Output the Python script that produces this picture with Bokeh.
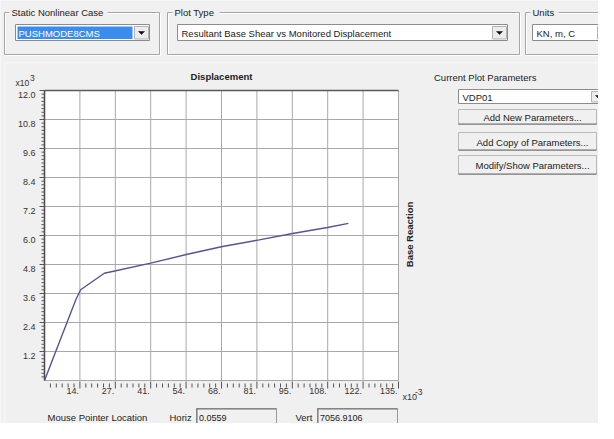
import math
import numpy as np
from bokeh.plotting import figure
from bokeh.models import Range1d
from bokeh.core.properties import value
from bokeh.embed import file_html
from bokeh.resources import INLINE

# ---------------- data ----------------
displacement_m = [0.0, 0.0119, 0.0138, 0.0228, 0.0272, 0.0405, 0.0545,
                  0.0679, 0.0819, 0.0946, 0.1079, 0.1159]
base_shear_kN = [0.0, 3330, 3755, 4440, 4540, 4855, 5225,
                 5545, 5820, 6085, 6330, 6500]

x_ticks = [13.5, 27.0, 40.5, 54.0, 67.5, 81.0, 94.5, 108.0, 121.5, 135.0]
x_tick_labels = ["14.", "27.", "41.", "54.", "68.", "81.", "95.", "108.", "122.", "135."]
y_ticks = [1.2, 2.4, 3.6, 4.8, 6.0, 7.2, 8.4, 9.6, 10.8, 12.0]
y_tick_labels = ["1.2", "2.4", "3.6", "4.8", "6.0", "7.2", "8.4", "9.6", "10.8", "12.0"]

case_name = "PUSHMODE8CMS"
plot_type = "Resultant Base Shear vs Monitored Displacement"
units_name = "KN, m, C"
param_name = "VDP01"
buttons = ["Add New Parameters...", "Add Copy of Parameters...", "Modify/Show Parameters..."]
horiz_value = "0.0559"
vert_value = "7056.9106"

# ---------------- layout constants (figure pixels) ----------------
W, H = 598, 423
OFF = 8                      # page margin
CL, CR, CT, CB = 44, 398, 90, 380   # chart box inside the figure
BG = "#f0f0f0"
FONT = "Liberation Sans"
TXT = "#222222"

x_lo, x_hi = 0.0, x_ticks[-1]
y_lo, y_hi = 0.0, y_ticks[-1]
kx = (x_hi - x_lo) / (CR - CL)
ky = (y_hi - y_lo) / (CB - CT)

p = figure(width=W, height=H, output_backend="svg", toolbar_location=None,
           x_range=Range1d(x_lo - CL * kx, x_hi + (W - CR) * kx),
           y_range=Range1d(y_lo - (H - CB) * ky, y_hi + CT * ky),
           x_axis_location=None, y_axis_location=None, min_border=0)
p.extra_x_ranges = {"px": Range1d(0, W)}
p.extra_y_ranges = {"px": Range1d(H, 0)}
p.grid.visible = False
p.outline_line_color = None
p.background_fill_color = BG
p.border_fill_color = BG

PX = dict(x_range_name="px", y_range_name="px")


def X(px):
    return px - OFF


def Y(py):
    return py - OFF


def box(l, t, r, b, fill=None, line=None, lw=1):
    p.quad(left=[X(l)], right=[X(r)], top=[Y(t)], bottom=[Y(b)],
           fill_color=fill, fill_alpha=1.0 if fill else 0.0,
           line_color=line, line_width=lw, **PX)


def text(px, py, s, size="9.5px", align="left", bold=False, color=TXT, angle=0.0):
    p.text(x=[X(px)], y=[Y(py)], text=[s], text_font=value(FONT),
           text_font_size=value(size), text_align=align, text_baseline="middle",
           text_color=color, text_font_style="bold" if bold else "normal",
           angle=angle, **PX)


def tri(cx, cy):
    p.patch([X(cx - 3), X(cx + 3), X(cx)], [Y(cy - 1.5), Y(cy - 1.5), Y(cy + 1.5)],
            fill_color="#111111", line_color="#111111", line_width=0.5, **PX)


def group(l, t, r, b, title, title_w):
    box(l + 1, t + 1, r + 1, b + 1, line="white")
    box(l, t, r, b, line="#a6a6a6")
    box(l + 5, t - 3, l + 9 + title_w, t + 3, fill=BG)
    text(l + 7, t, title)


def combo(l, t, r, b, s, btn_r, selected=False):
    box(l, t, r, b, fill="white", line="#8c8c8c")
    if selected:
        box(l + 2, t + 2, btn_r - 16, b - 1.5, fill="#3b8ded")
        text(l + 3, (t + b) / 2 + 0.5, s, color="white")
    else:
        text(l + 4, (t + b) / 2 + 0.5, s)
    box(btn_r - 14, t + 2, btn_r, b - 1.5, fill="#ececec", line="#b4b4b4")
    tri(btn_r - 7, (t + b) / 2 + 0.5)


# ---------------- dialog decoration ----------------
box(12, 70, 640, 70.8, fill="#fcfcfc")
box(12, 70, 12.8, 445, fill="#fcfcfc")

group(12, 20, 167, 62, "Static Nonlinear Case", 94)
combo(23, 32, 157, 48, case_name, 156, selected=True)
group(175, 20, 527, 62, "Plot Type", 43)
combo(185, 32, 515, 48, plot_type, 514)
group(533, 20, 640, 62, "Units", 24)
combo(540, 32, 640, 48, units_name, 619)

text(441.5, 85, "Current Plot Parameters")
combo(466, 97, 640, 111, param_name, 613)
btn_rows = [(117, 132), (140, 158), (163, 182)]
for (t, b), s in zip(btn_rows, buttons):
    box(466, t, 604, b, fill=BG, line="#b9b9b9")
    box(466, b - 1, 604, b, fill="#6e6e6e")
    text(540, (t + b) / 2 + 0.5, s, align="center")

# mouse readout row (nudged up a little so it fits above the page margin)
RY = 424.5
text(55, RY, "Mouse Pointer Location")
text(177, RY, "Horiz")
box(204, RY - 8.5, 284, 445, fill=BG, line="#9a9a9a")
box(204, RY - 8.5, 284, RY - 7.5, fill="#707070")
box(204, RY - 8.5, 205, 445, fill="#707070")
text(206.5, RY + 0.5, horiz_value, size="9px")
text(303, RY, "Vert")
box(325, RY - 8.5, 405, 445, fill=BG, line="#9a9a9a")
box(325, RY - 8.5, 405, RY - 7.5, fill="#707070")
box(325, RY - 8.5, 326, 445, fill="#707070")
text(327.5, RY + 0.5, vert_value, size="9px")

# ---------------- chart ----------------
p.quad(left=[x_lo], right=[x_hi], bottom=[y_lo], top=[y_hi],
       fill_color="white", line_color=None)
p.segment(x0=x_ticks, x1=x_ticks, y0=[y_lo] * len(x_ticks), y1=[y_hi] * len(x_ticks),
          line_color="#a8a8a8", line_width=1)
p.segment(x0=[x_lo] * len(y_ticks), x1=[x_hi] * len(y_ticks), y0=y_ticks, y1=y_ticks,
          line_color="#a8a8a8", line_width=1)
p.segment(x0=[x_lo], x1=[x_hi], y0=[y_lo], y1=[y_lo], line_color="#a8a8a8", line_width=1)
p.segment(x0=[x_lo], x1=[x_lo], y0=[y_lo], y1=[y_hi], line_color="#4a4a4a", line_width=1.5)
p.segment(x0=[x_lo], x1=[x_hi], y0=[y_hi], y1=[y_hi], line_color="#5a5a5a", line_width=1.5)

# x ticks (major + 5 minor per interval), detached below the plot
x_step = x_ticks[1] - x_ticks[0]
x_minor = [v for v in np.arange(x_step / 6, x_hi, x_step / 6)
           if min(abs(v - t) for t in x_ticks) > 1e-6]
p.segment(x0=x_ticks, x1=x_ticks, y0=[CB + 1] * len(x_ticks), y1=[CB + 8] * len(x_ticks),
          line_color="#555555", line_width=1, y_range_name="px")
p.segment(x0=x_minor, x1=x_minor, y0=[CB + 3] * len(x_minor), y1=[CB + 7] * len(x_minor),
          line_color="#555555", line_width=1, y_range_name="px")
p.text(x=x_ticks, y=[Y(398.5)] * len(x_ticks), text=x_tick_labels, x_offset=-1,
       text_align="right", text_baseline="middle", text_font=value(FONT),
       text_font_size=value("9px"), text_color="#333333", y_range_name="px")

# y ticks (major + 7 minor per interval)
y_step = y_ticks[1] - y_ticks[0]
y_minor = [v for v in np.arange(y_step / 8, y_hi, y_step / 8)
           if min(abs(v - t) for t in y_ticks) > 1e-6]
p.segment(x0=[CL - 5] * len(y_ticks), x1=[CL] * len(y_ticks), y0=y_ticks, y1=y_ticks,
          line_color="#555555", line_width=1, x_range_name="px")
p.segment(x0=[CL - 3] * len(y_minor), x1=[CL] * len(y_minor), y0=y_minor, y1=y_minor,
          line_color="#555555", line_width=1, x_range_name="px")
p.text(x=[CL - 9] * len(y_ticks), y=y_ticks, text=y_tick_labels, y_offset=4,
       text_align="right", text_baseline="middle", text_font=value(FONT),
       text_font_size=value("9px"), text_color="#333333", x_range_name="px")

# data curve
disp_e3 = [d * 1e3 for d in displacement_m]
shear_e3 = [s / 1e3 for s in base_shear_kN]
p.line(disp_e3, shear_e3, line_color="#55558f", line_width=1.4)

# titles and multipliers
text(229, 84, "Displacement", bold=True, align="center")
text(417, 242, "Base Reaction", bold=True, align="center", angle=math.pi / 2)
text(23, 90.5, "x10", size="8.5px", color="#333333")
text(37.5, 85.5, "3", size="8.5px", color="#333333")
text(410, 404, "x10", size="9px", color="#333333")
text(422.5, 399.5, "-3", size="8.5px", color="#333333")

open("out.html", "w").write(file_html(p, INLINE))
